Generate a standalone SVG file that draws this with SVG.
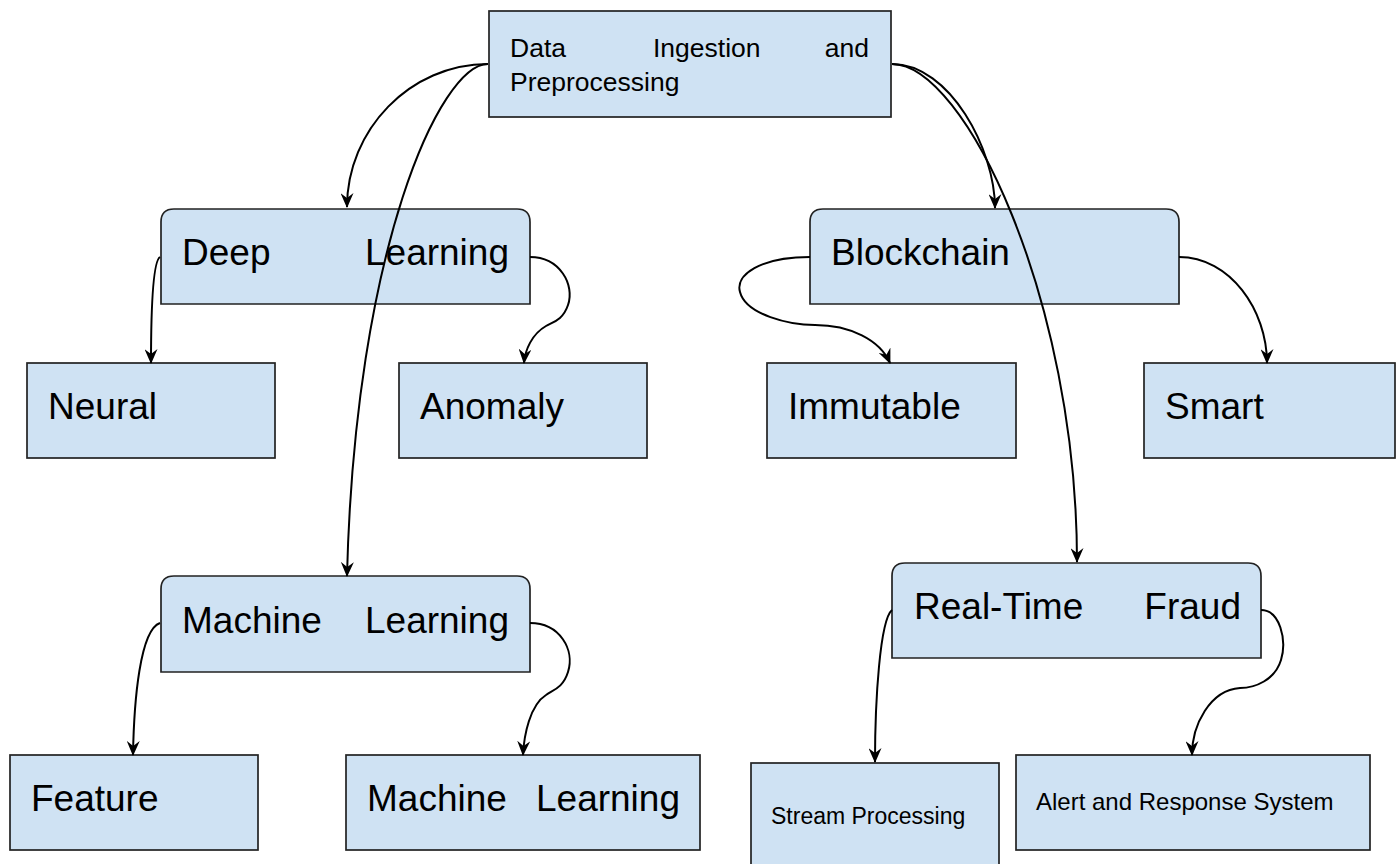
<svg xmlns="http://www.w3.org/2000/svg" width="1399" height="864" viewBox="0 0 1399 864">
  <defs>
    <style>
      .box { fill: #cfe2f3; stroke: #222; stroke-width: 1.7; }
      .lbl { font-family: "Liberation Sans", Arial, sans-serif; fill: #000; }
      .big { font-size: 37px; }
      .mid { font-size: 26.5px; }
      .sm { font-size: 23px; }
      .sm2 { font-size: 24px; }
      .edge { fill: none; stroke: #000; stroke-width: 2; marker-end: url(#arr); }
    </style>
    <marker id="arr" markerUnits="userSpaceOnUse" markerWidth="15" markerHeight="13" viewBox="0 0 15 13" refX="14" refY="6.5" orient="auto">
      <path d="M0,0 L15,6.5 L0,13 L5,6.5 z" fill="#000"/>
    </marker>
  </defs>
  <rect width="1399" height="864" fill="#fff"/>

  <!-- nodes -->
  <g id="ingest">
    <rect class="box" x="489" y="11" width="402" height="106"/>
    <text class="lbl mid" x="510" y="57">Data</text>
    <text class="lbl mid" x="653" y="57">Ingestion</text>
    <text class="lbl mid" x="869" y="57" text-anchor="end">and</text>
    <text class="lbl mid" x="510" y="91">Preprocessing</text>
  </g>

  <g id="deep-learning">
    <path class="box" d="M161,304 V222 Q161,209 174,209 H517 Q530,209 530,222 V304 Z"/>
    <text class="lbl big" x="182" y="265">Deep</text>
    <text class="lbl big" x="509" y="265" text-anchor="end">Learning</text>
  </g>

  <g id="neural">
    <rect class="box" x="27" y="363" width="248" height="95"/>
    <text class="lbl big" x="48" y="419">Neural</text>
  </g>

  <g id="anomaly">
    <rect class="box" x="399" y="363" width="248" height="95"/>
    <text class="lbl big" x="420" y="419">Anomaly</text>
  </g>

  <g id="blockchain">
    <path class="box" d="M810,304 V222 Q810,209 823,209 H1166 Q1179,209 1179,222 V304 Z"/>
    <text class="lbl big" x="831" y="265">Blockchain</text>
  </g>

  <g id="immutable">
    <rect class="box" x="767" y="363" width="249" height="95"/>
    <text class="lbl big" x="788" y="419">Immutable</text>
  </g>

  <g id="smart">
    <rect class="box" x="1144" y="363" width="251" height="95"/>
    <text class="lbl big" x="1165" y="419">Smart</text>
  </g>

  <g id="machine-learning">
    <path class="box" d="M161,672 V589 Q161,576 174,576 H517 Q530,576 530,589 V672 Z"/>
    <text class="lbl big" x="182" y="633">Machine</text>
    <text class="lbl big" x="509" y="633" text-anchor="end">Learning</text>
  </g>

  <g id="feature">
    <rect class="box" x="10" y="755" width="248" height="95"/>
    <text class="lbl big" x="31" y="811">Feature</text>
  </g>

  <g id="ml-model">
    <rect class="box" x="346" y="755" width="354" height="95"/>
    <text class="lbl big" x="367" y="811">Machine</text>
    <text class="lbl big" x="680" y="811" text-anchor="end">Learning</text>
  </g>

  <g id="realtime-fraud">
    <path class="box" d="M892,658 V576 Q892,563 905,563 H1248 Q1261,563 1261,576 V658 Z"/>
    <text class="lbl big" x="914" y="619">Real-Time</text>
    <text class="lbl big" x="1241" y="619" text-anchor="end">Fraud</text>
  </g>

  <g id="stream">
    <rect class="box" x="751" y="763" width="248" height="110"/>
    <text class="lbl sm" x="771" y="824">Stream Processing</text>
  </g>

  <g id="alert">
    <rect class="box" x="1016" y="755" width="354" height="95"/>
    <text class="lbl sm2" x="1036" y="810">Alert and Response System</text>
  </g>

  <!-- connectors -->
  <g id="edges">
    <path class="edge" d="M488,64 C410,64 347,130 347,207"/>
    <path class="edge" d="M488,64 C440,64 355,250 347,576"/>
    <path class="edge" d="M892,64 C950,64 995,150 995,208"/>
    <path class="edge" d="M892,64 C965,64 1077,300 1077,562"/>
    <path class="edge" d="M160,257 C152,262 151,320 151,363"/>
    <path class="edge" d="M530,257 C560,257 575,285 568,305 C563,320 553,322 546,326 C532,334 525,350 524,363"/>
    <path class="edge" d="M810,257 C760,257 735,275 740,292 C746,315 790,325 815,325 C850,325 880,340 890,363"/>
    <path class="edge" d="M1179,257 C1230,257 1267,310 1267,363"/>
    <path class="edge" d="M160,623 C140,630 134,700 133,755"/>
    <path class="edge" d="M530,623 C560,623 575,650 568,672 C563,688 553,690 546,695 C530,705 524,735 523,755"/>
    <path class="edge" d="M892,610 C880,620 875,700 875,762"/>
    <path class="edge" d="M1261,610 C1280,610 1287,640 1281,660 C1275,680 1255,688 1240,688 C1210,690 1192,725 1192,755"/>
  </g>
</svg>
